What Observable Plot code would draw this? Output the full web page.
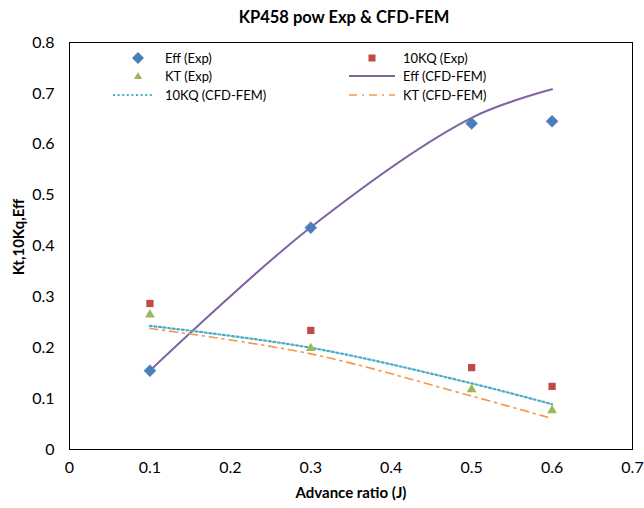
<!DOCTYPE html>
<html>
<head>
<meta charset="utf-8">
<script src="https://cdn.jsdelivr.net/npm/d3@7"></script>
<script src="https://cdn.jsdelivr.net/npm/@observablehq/plot@0.6"></script>
<style>
  body { margin: 0; background: #fff; font-family: Lato, "Noto Sans", sans-serif; }
  #wrap { position: relative; width: 644px; height: 508px; }
  #title { height: 32px; line-height: 34px; padding-left: 44px; width: 600px; text-align: center;
           font-weight: bold; font-size: 16.5px; color: #000; }
  #chart svg { display: block; overflow: visible; }
  g[aria-label="x-axis label"] text { font-weight: bold; font-size: 15px; }
  .leg { position: absolute; font-size: 13px; color: #000; white-space: nowrap; line-height: 16px; }
  .sym { position: absolute; }
</style>
</head>
<body>
<div id="wrap">
  <div id="title">KP458 pow Exp &amp; CFD-FEM</div>
  <div id="chart"></div>
  <div id="legend"></div>
</div>
<script>
// ----- data -----
const J        = [0.1, 0.3, 0.5, 0.6];
const effExp   = [0.155, 0.436, 0.641, 0.645];
const kq10Exp  = [0.287, 0.234, 0.161, 0.124];
const ktExp    = [0.265, 0.199, 0.118, 0.077];
const effCfd   = [0.155, 0.437, 0.652, 0.708];
const kq10Cfd  = [0.243, 0.200, 0.130, 0.089];
const ktCfd    = [0.238, 0.188, 0.105, 0.061];
const xTicks   = [0, 0.1, 0.2, 0.3, 0.4, 0.5, 0.6, 0.7];
const yTicks   = [0, 0.1, 0.2, 0.3, 0.4, 0.5, 0.6, 0.7, 0.8];
const yTitle   = "Kt,10Kq,Eff";
const seriesNames = ["Eff (Exp)", "10KQ (Exp)", "KT (Exp)", "Eff (CFD-FEM)", "10KQ (CFD-FEM)", "KT (CFD-FEM)"];
const colors = {eff: "#4a7ebb", kq: "#be4b48", kt: "#98b954", effC: "#7f63a3", kqC: "#4bacc6", ktC: "#f79646"};

const rows = (ys) => J.map((j, i) => ({x: j, y: ys[i]}));
const fmt = d => d === 0 ? "0" : d3.format(".1f")(d);

const plot = Plot.plot({
  width: 644,
  height: 476,
  marginTop: 10,
  marginBottom: 59,
  marginLeft: 69,
  marginRight: 12,
  style: {fontFamily: "Lato, 'Noto Sans', sans-serif", fontSize: "16px", color: "#000", background: "#fff"},
  x: {domain: [0, 0.7]},
  y: {domain: [0, 0.8]},
  marks: [
    Plot.axisX({ticks: xTicks, tickFormat: fmt, tickSize: 0, tickPadding: 12, fontSize: 16,
                label: "Advance ratio (J)", labelAnchor: "center", labelOffset: 48, labelArrow: "none"}),
    Plot.axisY({ticks: yTicks, tickFormat: fmt, tickSize: 0, tickPadding: 15, fontSize: 16, label: null}),
    Plot.text([yTitle], {frameAnchor: "left", rotate: -90, dx: -50, dy: -9, textAnchor: "middle",
                         lineAnchor: "middle", fontWeight: "bold", fontSize: 15, fill: "#000"}),
    Plot.frame({stroke: "#000", strokeWidth: 1}),
    Plot.line(rows(effCfd), {x: "x", y: "y", stroke: colors.effC, strokeWidth: 2, curve: "catmull-rom"}),
    Plot.line(rows(kq10Cfd), {x: "x", y: "y", stroke: colors.kqC, strokeWidth: 2.2, strokeDasharray: "2 2.6", curve: "catmull-rom"}),
    Plot.line(rows(ktCfd), {x: "x", y: "y", stroke: colors.ktC, strokeWidth: 1.6, strokeDasharray: "8 5 2 5", curve: "catmull-rom"}),
    Plot.dot(rows(effExp), {x: "x", y: "y", symbol: "diamond2", r: 5.4, fill: colors.eff, stroke: colors.eff, strokeWidth: 0.5}),
    Plot.dot(rows(kq10Exp), {x: "x", y: "y", symbol: "square", r: 4.1, fill: colors.kq, stroke: "none"}),
    Plot.dot(rows(ktExp), {x: "x", y: "y", symbol: "triangle", r: 3.6, fill: colors.kt, stroke: "none"})
  ]
});
document.getElementById("chart").appendChild(plot);

// ----- legend (inside plot area, like the reference) -----
const legend = document.getElementById("legend");
const items = [
  {name: seriesNames[0], tx: 165, ty: 58, kind: "diamond", c: colors.eff, sx: 138},
  {name: seriesNames[1], tx: 403, ty: 58, kind: "square", c: colors.kq, sx: 372},
  {name: seriesNames[2], tx: 165, ty: 76, kind: "triangle", c: colors.kt, sx: 138},
  {name: seriesNames[3], tx: 403, ty: 76, kind: "solid", c: colors.effC, sx: 372},
  {name: seriesNames[4], tx: 165, ty: 95, kind: "dot", c: colors.kqC, sx: 133},
  {name: seriesNames[5], tx: 403, ty: 95, kind: "dashdot", c: colors.ktC, sx: 372}
];
const NS = "http://www.w3.org/2000/svg";
for (const it of items) {
  const t = document.createElement("div");
  t.className = "leg";
  t.style.left = it.tx + "px";
  t.style.top = (it.ty - 8) + "px";
  t.textContent = it.name;
  legend.appendChild(t);
  const s = document.createElementNS(NS, "svg");
  s.setAttribute("class", "sym");
  s.setAttribute("width", 50); s.setAttribute("height", 14);
  s.style.left = (it.sx - 25) + "px"; s.style.top = (it.ty - 7) + "px";
  let el;
  if (it.kind === "diamond") {
    el = document.createElementNS(NS, "path");
    el.setAttribute("d", "M25,1L31,7L25,13L19,7Z"); el.setAttribute("fill", it.c);
  } else if (it.kind === "square") {
    el = document.createElementNS(NS, "rect");
    el.setAttribute("x", 21.5); el.setAttribute("y", 3.5); el.setAttribute("width", 7); el.setAttribute("height", 7);
    el.setAttribute("fill", it.c);
  } else if (it.kind === "triangle") {
    el = document.createElementNS(NS, "path");
    el.setAttribute("d", "M25,3L29,10L21,10Z"); el.setAttribute("fill", it.c);
  } else {
    el = document.createElementNS(NS, "line");
    el.setAttribute("x1", 2); el.setAttribute("x2", 48); el.setAttribute("y1", 7); el.setAttribute("y2", 7);
    el.setAttribute("stroke", it.c);
    if (it.kind === "solid") el.setAttribute("stroke-width", 2);
    if (it.kind === "dot") { el.setAttribute("stroke-width", 2.2); el.setAttribute("stroke-dasharray", "2 2.6"); el.setAttribute("x1", 5); el.setAttribute("x2", 45); }
    if (it.kind === "dashdot") { el.setAttribute("stroke-width", 1.6); el.setAttribute("stroke-dasharray", "8 5 2 5"); }
  }
  s.appendChild(el);
  legend.appendChild(s);
}
</script>
</body>
</html>
